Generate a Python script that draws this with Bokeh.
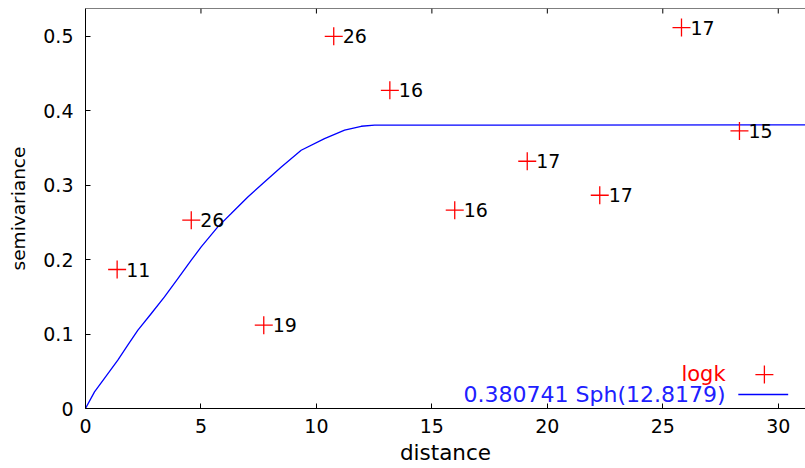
import math
from bokeh.plotting import figure
from bokeh.models import Range1d, FixedTicker, Span
from bokeh.core.properties import value
from bokeh.embed import file_html
from bokeh.resources import INLINE

# sample variogram (distance, semivariance, number of pairs)
dist = [1.37, 4.58, 7.72, 10.75, 13.18, 15.99, 19.13, 22.27, 25.81, 28.32]
gamma = [0.1866, 0.2528, 0.1118, 0.4997, 0.4272, 0.2662, 0.3319, 0.2863, 0.5114, 0.3726]
npairs = ["11", "26", "19", "26", "16", "16", "17", "17", "17", "15"]

# fitted model curve
model_x = [0, 0.39, 0.82, 1.40, 1.83, 2.27, 2.85, 3.42, 4.00, 4.58, 5.01, 5.73,
           6.31, 7.03, 7.75, 8.48, 9.34, 10.35, 11.22, 11.94, 12.52, 31.2]
model_y = [0, 0.0223, 0.0403, 0.0648, 0.0850, 0.1051, 0.1275, 0.1498, 0.1745,
           0.1991, 0.2169, 0.2438, 0.2617, 0.2840, 0.3042, 0.3243, 0.3467,
           0.3624, 0.3736, 0.3789, 0.3803, 0.3807]

x_ticks = [0, 5, 10, 15, 20, 25, 30]
x_tick_labels = ["0", "5", "10", "15", "20", "25", "30"]
y_ticks = [0, 0.1, 0.2, 0.3, 0.4, 0.5]
y_tick_labels = ["0", "0.1", "0.2", "0.3", "0.4", "0.5"]

points_name = "logk"
model_name = "0.380741 Sph(12.8179)"

FONT = "DejaVu Sans"
X_MAX = 31.18
Y_MAX = 0.537

p = figure(width=805, height=468,
           x_range=Range1d(0, X_MAX), y_range=Range1d(0, Y_MAX),
           output_backend="svg", toolbar_location=None,
           min_border_left=85, min_border_right=0, min_border_top=8,
           min_border_bottom=60,
           x_axis_label="distance", y_axis_label="semivariance")
p.outline_line_color = None
p.grid.visible = False
p.background_fill_color = "white"
p.border_fill_color = "white"

def style_axis(ax, ticks, labels, size):
    ax.ticker = FixedTicker(ticks=ticks)
    ax.major_label_overrides = {t: l for t, l in zip(ticks, labels)}
    ax.major_tick_in = 5
    ax.major_tick_out = 0
    ax.minor_tick_line_color = None
    ax.axis_line_color = "black"
    ax.major_tick_line_color = "black"
    ax.major_label_text_font = FONT
    ax.major_label_text_font_size = size
    ax.major_label_text_color = "black"
    ax.axis_label_text_font = FONT
    ax.axis_label_text_font_style = "normal"
    ax.axis_label_text_color = "black"

xa = p.xaxis[0]
style_axis(xa, x_ticks, x_tick_labels, "19px")
xa.major_label_standoff = 10
xa.axis_label_text_font_size = "21.5px"
xa.axis_label_standoff = 4

ya = p.yaxis[0]
style_axis(ya, y_ticks, y_tick_labels, "19px")
ya.major_label_standoff = 12
ya.axis_label_text_font_size = "18.5px"
ya.axis_label_standoff = 11

# top border with inward ticks (gnuplot style)
p.add_layout(Span(location=Y_MAX, dimension="width", line_color="black", line_width=1))
p.ray(x=x_ticks, y=[Y_MAX] * len(x_ticks), length=5, length_units="screen",
      angle=-math.pi / 2, line_color="black", line_width=1)

# model curve
p.line(model_x, model_y, line_color="#0000ff", line_width=1.3)

# sample points
p.scatter(dist, gamma, marker="cross", size=18, line_color="#ff0000", line_width=1.3)
p.text(dist, gamma, text=npairs, x_offset=9, text_baseline="middle",
       text_font=value(FONT), text_font_size="19px", text_color="black")

# legend (gnuplot style: text then sample)
p.text([27.72], [0.0458], text=[points_name], text_align="right", text_baseline="middle",
       text_font=value(FONT), text_font_size="21px", text_color="#ff0000")
p.scatter([29.4], [0.0456], marker="cross", size=18, line_color="#ff0000", line_width=1.3)
p.text([27.72], [0.0188], text=[model_name], text_align="right", text_baseline="middle",
       text_font=value(FONT), text_font_size="22px", text_color="#2020ff")
p.line([28.27, 30.43], [0.0188, 0.0188], line_color="#0000ff", line_width=1.3)

open("out.html", "w").write(file_html(p, INLINE))
